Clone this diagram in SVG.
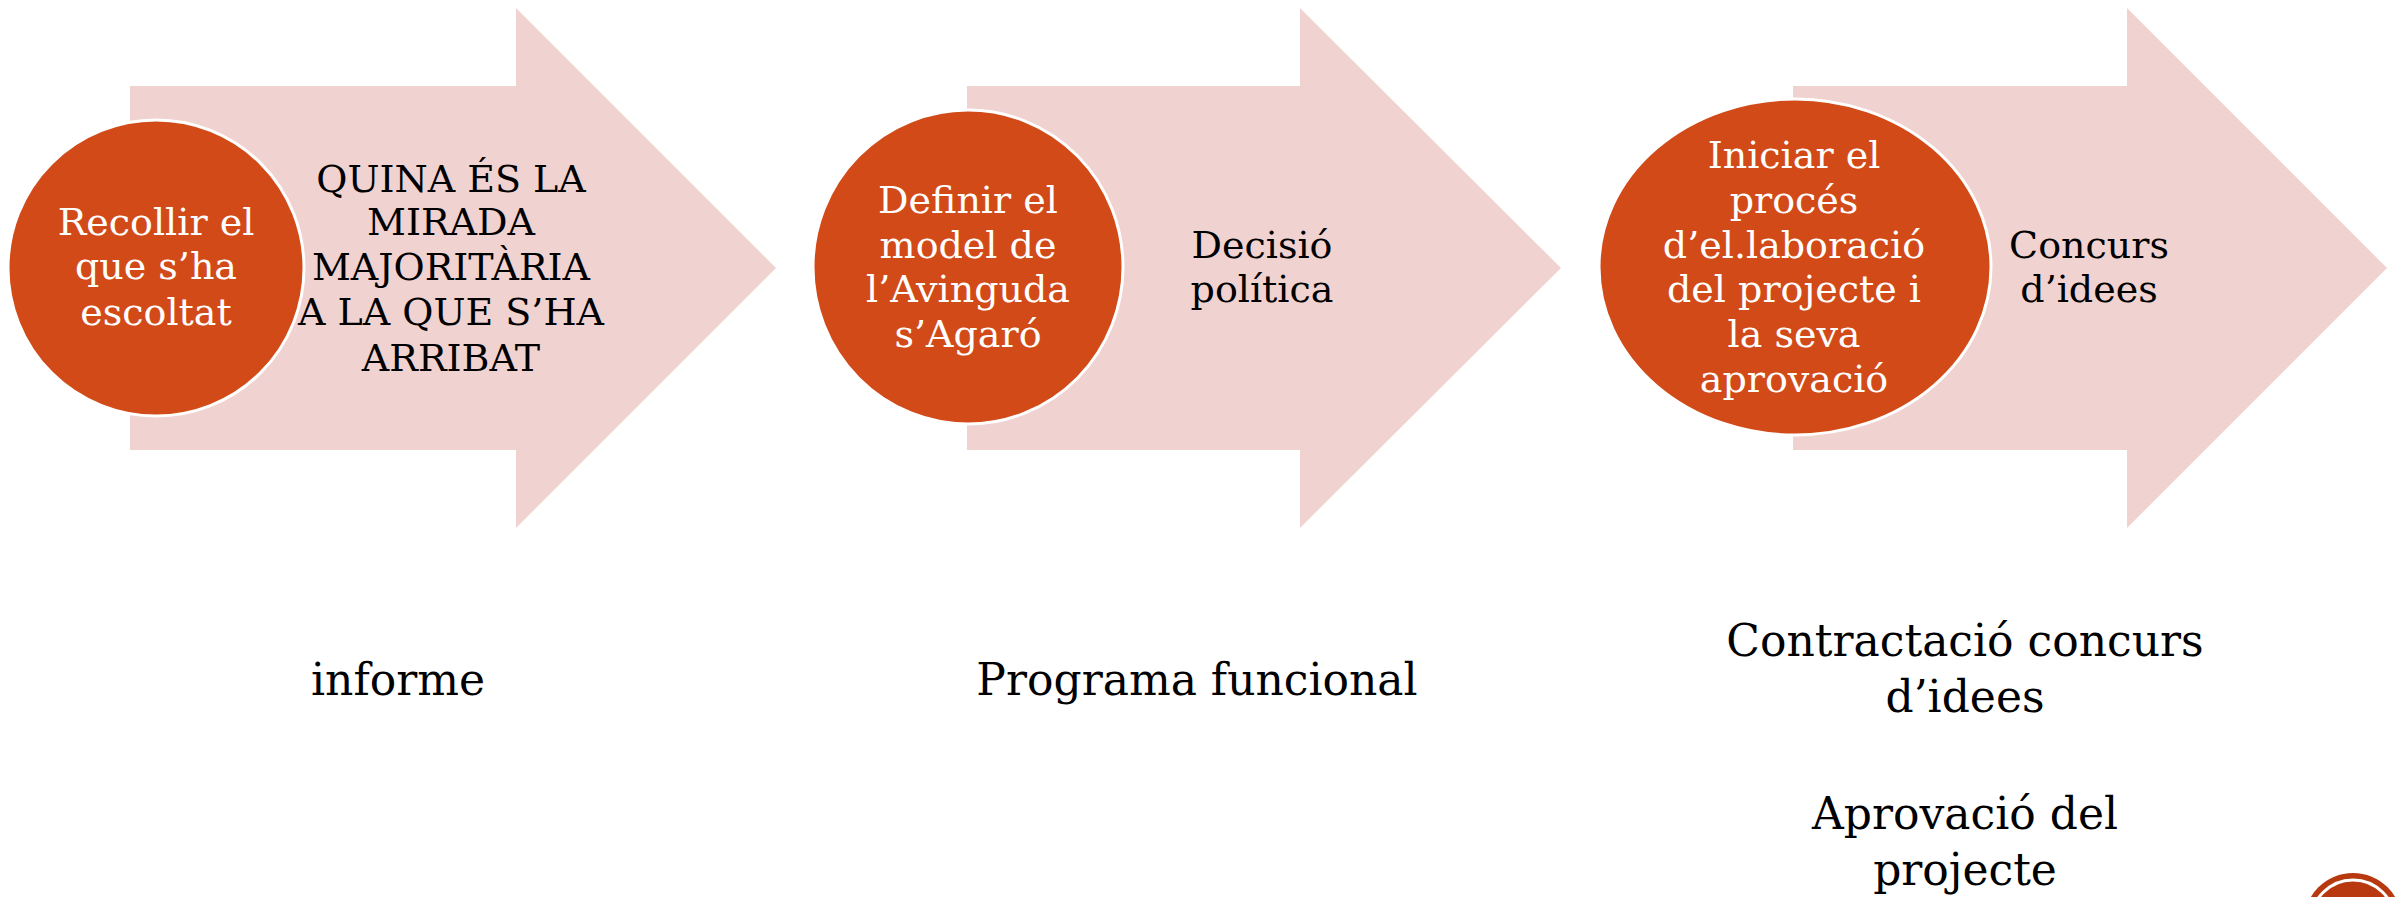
<svg xmlns="http://www.w3.org/2000/svg" width="2399" height="897" viewBox="0 0 2399 897">
<style>
.arrow{fill:#F0D2D0;}
.dot{fill:#D24A18;stroke:#FFFFFF;stroke-width:3;}
.t{font-family:"DejaVu Serif","Liberation Serif",serif;text-anchor:middle;}
.w{fill:#FFFFFF;font-size:38px;}
.b{fill:#000000;font-size:38px;}
.big{fill:#000000;font-size:44px;}
</style>
<rect width="2399" height="897" fill="#FFFFFF"/>
<g id="step1">
<polygon class="arrow" points="130,86 516,86 516,8 776,268 516,528 516,450 130,450"/>
<ellipse class="dot" cx="156" cy="268" rx="148" ry="148"/>
<text class="t w"><tspan x="156" y="235">Recollir el</tspan><tspan x="156" y="279">que s’ha</tspan><tspan x="156" y="325">escoltat</tspan></text>
<text class="t b"><tspan x="451" y="192">QUINA ÉS LA</tspan><tspan x="451" y="235">MIRADA</tspan><tspan x="451" y="280">MAJORITÀRIA</tspan><tspan x="451" y="325">A LA QUE S’HA</tspan><tspan x="451" y="371">ARRIBAT</tspan></text>
</g>
<g id="step2">
<polygon class="arrow" points="967,86 1300,86 1300,8 1561,268 1300,528 1300,450 967,450"/>
<ellipse class="dot" cx="968" cy="267" rx="155" ry="157"/>
<text class="t w"><tspan x="968" y="213">Definir el</tspan><tspan x="968" y="258">model de</tspan><tspan x="968" y="302">l’Avinguda</tspan><tspan x="968" y="347">s’Agaró</tspan></text>
<text class="t b"><tspan x="1262" y="258">Decisió</tspan><tspan x="1262" y="302">política</tspan></text>
</g>
<g id="step3">
<polygon class="arrow" points="1793,86 2127,86 2127,8 2387,268 2127,528 2127,450 1793,450"/>
<ellipse class="dot" cx="1795" cy="267" rx="196" ry="168"/>
<text class="t w"><tspan x="1794" y="168">Iniciar el</tspan><tspan x="1794" y="213">procés</tspan><tspan x="1794" y="258">d’el.laboració</tspan><tspan x="1794" y="302">del projecte i</tspan><tspan x="1794" y="347">la seva</tspan><tspan x="1794" y="392">aprovació</tspan></text>
<text class="t b"><tspan x="2089" y="258">Concurs</tspan><tspan x="2089" y="302">d’idees</tspan></text>
</g>
<g id="out1"><text class="t big" x="398" y="695">informe</text></g>
<g id="out2"><text class="t big" x="1197" y="695">Programa funcional</text></g>
<g id="out3"><text class="t big"><tspan x="1965" y="656">Contractació concurs</tspan><tspan x="1965" y="712">d’idees</tspan><tspan x="1965" y="829">Aprovació del</tspan><tspan x="1965" y="885">projecte</tspan></text></g>
<g id="badge">
<circle cx="2353" cy="922" r="49" fill="#B8390F"/>
<circle cx="2353" cy="922" r="42" fill="none" stroke="#FFFFFF" stroke-width="3"/>
</g>
<g id="connectors"/>
</svg>
